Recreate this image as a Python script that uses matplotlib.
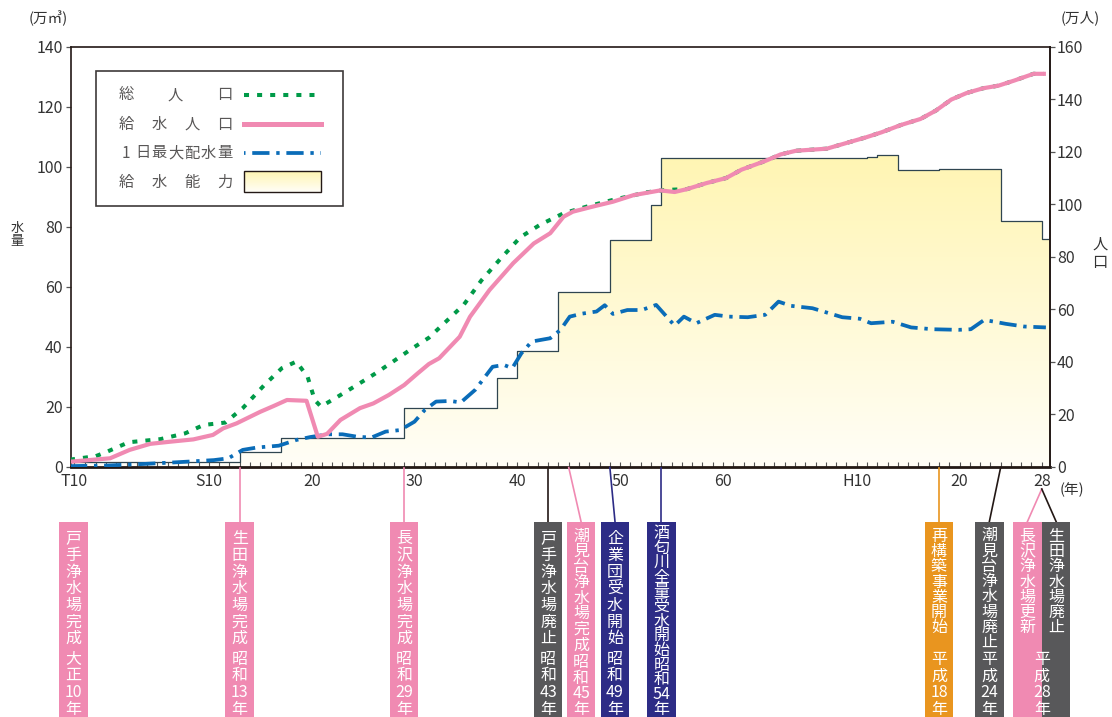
import re
import numpy as np
import matplotlib
matplotlib.use('Agg')
import matplotlib.pyplot as plt
from matplotlib import transforms
from matplotlib.colors import LinearSegmentedColormap
from matplotlib.patches import Polygon, Rectangle
from matplotlib.lines import Line2D

plt.rcParams['font.family'] = ['Noto Sans CJK JP', 'DejaVu Sans']

# ---- data (years as plotted, population in 万人, water in 万m3) ----
total_years = [1921.5, 1924.0, 1925.1, 1927.2, 1930.3, 1932.7, 1934.5, 1936.6, 1938.3, 1940.4,
               1942.1, 1943.5, 1944.6, 1945.3, 1945.9, 1947.3, 1949.4, 1951.2, 1952.9, 1954.8,
               1956.4, 1958.1, 1959.8, 1961.5, 1963.3, 1965.3, 1967.2, 1969.5, 1971.8, 1974.3,
               1977.6, 1979.5, 1981.5, 1983.4, 1985.3, 1986.8, 1989.1, 1990.6, 1992.1, 1995.1,
               1996.6, 1998.9, 2000.4, 2002.3, 2004.2, 2005.7, 2007.2, 2008.7, 2010.3, 2011.8,
               2013.3, 2015.2, 2016.2]
total_pop = [2.7, 4.0, 5.7, 9.3, 10.5, 12.7, 15.9, 16.8, 22.3, 31.1,
             37.5, 40.0, 34.3, 25.4, 22.9, 26.1, 31.1, 35.5, 40.0, 45.1,
             49.1, 55.4, 61.7, 70.9, 78.9, 87.4, 92.1, 96.5, 99.1, 101.6,
             104.5, 105.4, 105.7, 108.0, 109.9, 113.1, 116.4, 118.9, 120.3, 121.1,
             122.8, 125.4, 127.3, 130.1, 132.4, 135.6, 139.8, 142.3, 144.1, 145.1,
             147.0, 149.6, 149.6]

supply_years = [1921.5, 1925.4, 1927.3, 1929.3, 1931.2, 1933.5, 1935.4, 1936.4, 1937.7, 1940.0,
                1941.3, 1942.6, 1944.5, 1945.6, 1946.5, 1947.8, 1949.7, 1951.0, 1952.5, 1954.0,
                1955.3, 1956.4, 1957.4, 1959.4, 1960.4, 1962.3, 1964.6, 1966.6, 1968.2, 1969.5,
                1970.4, 1972.4, 1974.3, 1976.3, 1978.9, 1980.3, 1981.5, 1983.4, 1985.3, 1986.8,
                1989.1, 1990.6, 1992.1, 1995.1, 1996.6, 1998.9, 2000.4, 2002.3, 2004.2, 2005.7,
                2007.2, 2008.7, 2010.3, 2011.8, 2013.3, 2015.2, 2016.2]
supply_pop = [1.9, 3.2, 6.4, 8.7, 9.5, 10.4, 12.1, 14.6, 16.5, 20.9,
              23.1, 25.4, 25.1, 11.4, 12.5, 17.8, 22.3, 24.1, 27.3, 31.1,
              35.5, 39.1, 41.3, 49.5, 57.1, 67.3, 77.5, 85.0, 88.9, 95.2,
              97.1, 99.1, 100.9, 103.4, 105.2, 104.6, 105.7, 108.0, 109.9, 113.1,
              116.4, 118.9, 120.3, 121.1, 122.8, 125.4, 127.3, 130.1, 132.4, 135.6,
              139.8, 142.3, 144.1, 145.1, 147.0, 149.6, 149.6]

flow_years = [1921.5, 1925.1, 1928.6, 1932.0, 1935.5, 1936.9, 1938.3, 1939.7, 1941.8, 1943.5,
              1944.9, 1946.6, 1948.0, 1949.4, 1950.8, 1952.2, 1953.6, 1955.0, 1956.0, 1957.1,
              1958.5, 1959.5, 1960.9, 1962.6, 1963.7, 1964.5, 1965.4, 1966.4, 1968.2, 1969.2,
              1970.1, 1971.3, 1972.7, 1973.5, 1974.3, 1975.7, 1977.1, 1978.5, 1980.3, 1981.2,
              1982.4, 1984.2, 1985.6, 1987.4, 1989.1, 1990.4, 1991.6, 1993.7, 1996.6, 1998.3,
              1999.4, 2001.5, 2003.3, 2005.4, 2007.9, 2009.1, 2010.4, 2011.4, 2012.5, 2014.3,
              2016.4]
max_flow = [0.2, 0.4, 0.9, 1.5, 2.2, 2.8, 5.6, 6.4, 7.0, 8.9,
            9.9, 10.8, 10.8, 10.0, 9.7, 11.7, 12.2, 15.0, 18.9, 21.7,
            21.9, 21.4, 25.6, 33.3, 33.9, 32.8, 37.8, 41.7, 42.8, 45.6,
            50.0, 51.0, 51.7, 53.8, 50.9, 52.2, 52.2, 53.9, 47.0, 50.0,
            47.8, 50.6, 50.0, 49.8, 50.6, 55.0, 53.6, 52.8, 49.8, 49.3,
            47.8, 48.3, 46.4, 45.8, 45.6, 45.8, 48.9, 48.3, 47.6, 46.7,
            46.4]

cap_years = [1921.5, 1938, 1942, 1954, 1963, 1965, 1969, 1974, 1978, 1979,
             1999, 2000, 2002, 2006, 2012, 2016]
cap_values = [1.5, 4.8, 9.5, 19.5, 29.5, 38.6, 58.3, 75.6, 87.2, 102.8,
              103.3, 103.8, 98.9, 99.1, 81.9, 75.8]

xtick_years = [1921.9, 1935, 1945, 1955, 1965, 1975, 1985, 1998, 2008, 2016]
xtick_labels = ['T10', 'S10', '20', '30', '40', '50', '60', 'H10', '20', '28']

event_years = [1921, 1938, 1954, 1968, 1970, 1974, 1979, 2006, 2012, 2016, 2016]
event_names = ['戸手浄水場完成', '生田浄水場完成', '長沢浄水場完成', '戸手浄水場廃止',
               '潮見台浄水場完成', '企業団受水開始', '酒匂川全量受水開始', '再構築事業開始',
               '潮見台浄水場廃止', '長沢浄水場更新', '生田浄水場廃止']
event_eras = ['大正10年', '昭和13年', '昭和29年', '昭和43年', '昭和45年', '昭和49年',
              '昭和54年', '平成18年', '平成24年', '平成28年', '']

# ---- style ----
PINK = '#f08ab2'
GREEN = '#009a48'
BLUE = '#0a6cb8'
NAVY = '#2d2c86'
GRAY = '#58585a'
ORANGE = '#e9951f'
DARK = '#231815'
event_colors = [PINK, PINK, PINK, GRAY, PINK, NAVY, NAVY, ORANGE, GRAY, PINK, GRAY]
line_colors = [PINK, PINK, PINK, DARK, PINK, NAVY, NAVY, ORANGE, DARK, PINK, DARK]
box_shift = [0.85, 0, 0, 0, 1.2, 0.5, 0, 0, -1.1, -1.4, 1.4]

W, H = 1112, 717
X_RIGHT = 2016.8
BOX_FS = 11.5
cap_cmap = LinearSegmentedColormap.from_list('cap', ['#fffef7', '#fff5b2'])

fig = plt.figure(figsize=(W / 100, H / 100), dpi=100)
ax = fig.add_axes([70.5 / W, 1 - 466.7 / H, (1050 - 70.5) / W, (466.7 - 46.5) / H])
ax2 = ax.twinx()
over = fig.add_axes([0, 0, 1, 1], zorder=10)
over.set_xlim(0, W)
over.set_ylim(H, 0)
over.axis('off')
over.patch.set_alpha(0)

# supply capacity: gradient fill under step outline
cap_x = cap_years + [X_RIGHT]
verts = [(cap_years[0], 0)]
for i, v in enumerate(cap_values):
    verts += [(cap_x[i], v), (cap_x[i + 1], v)]
verts.append((X_RIGHT, 0))
poly = Polygon(verts, closed=True, facecolor='none', edgecolor='none')
ax.add_patch(poly)
grad = np.linspace(0, 1, 256).reshape(-1, 1)
img = ax.imshow(grad, extent=(cap_years[0], X_RIGHT, 0, 105), origin='lower',
                aspect='auto', cmap=cap_cmap, zorder=1)
img.set_clip_path(poly)
ax.plot(cap_x, cap_values + [cap_values[-1]], drawstyle='steps-post',
        color='#2f4550', lw=0.9, zorder=2)

# max daily flow
ax.plot(flow_years, max_flow, color=BLUE, lw=2.7, linestyle=(0, (4.6, 1.8, 0.9, 1.8)),
        dash_capstyle='butt', zorder=3)

# population on right axis
ax2.plot(total_years, total_pop, color=GREEN, lw=2.9, linestyle=(0, (1.25, 2.0)),
         dash_capstyle='butt', zorder=3)
ax2.plot(supply_years, supply_pop, color=PINK, lw=3.0, solid_joinstyle='round', zorder=4)

ax.set_xlim(cap_years[0] + 0.05, X_RIGHT)
ax.set_ylim(0, 140)
ax2.set_ylim(0, 160)
ax.set_yticks(range(0, 141, 20))
ax2.set_yticks(range(0, 161, 20))
ax.set_xticks(xtick_years)
ax.set_xticklabels(xtick_labels)
ax.set_xticks(np.arange(1923, 2017), minor=True)

ax.tick_params(axis='x', which='both', direction='in', length=3.6, width=0.8,
               color='#555555', pad=4.5, labelsize=11.5, labelcolor='#333333')
ax.tick_params(axis='y', direction='out', length=3.6, width=0.9, color='#555555',
               pad=2, labelsize=11.5, labelcolor='#333333')
ax2.tick_params(axis='y', direction='out', length=3.6, width=0.9, color='#555555',
                pad=1.5, labelsize=11.5, labelcolor='#333333')

for s in ['left', 'top']:
    ax.spines[s].set_linewidth(1.2)
    ax.spines[s].set_color(DARK)
ax.spines['bottom'].set_linewidth(2.0)
ax.spines['bottom'].set_color(DARK)
ax.spines['right'].set_visible(False)
for s in ['left', 'top', 'bottom']:
    ax2.spines[s].set_visible(False)
ax2.spines['right'].set_linewidth(1.4)
ax2.spines['right'].set_color(DARK)

# axis captions
over.text(48, 18, '(万㎥)', ha='center', va='center', fontsize=10.5, color='#333333')
over.text(1080, 18, '(万人)', ha='center', va='center', fontsize=10.5, color='#333333')
over.text(1072, 490, '(年)', ha='center', va='center', fontsize=10.5, color='#333333')
over.text(17, 235, '水\n量', ha='center', va='center', fontsize=9.5, color='#333333',
          linespacing=1.05)
over.text(1100, 253, '人\n口', ha='center', va='center', fontsize=11, color='#333333',
          linespacing=1.1)

# legend box
over.add_patch(Rectangle((96, 71), 247, 135, facecolor='white', edgecolor='#3e3a39',
                         lw=1.2, zorder=1))
leg_labels = ['総人口', '給水人口', '1日最大配水量', '給水能力']
leg_y = [95, 124, 153, 182]
for lab, y in zip(leg_labels, leg_y):
    for cx, ch in zip(np.linspace(126, 225, len(lab)), lab):
        over.text(cx, y, ch, ha='center', va='center', fontsize=11, color='#595757', zorder=3)
over.add_line(Line2D([244, 321], [95, 95], color=GREEN, lw=2.9,
                     linestyle=(0, (1.25, 2.0)), dash_capstyle='butt', zorder=3))
over.add_line(Line2D([244, 321], [124, 124], color=PINK, lw=3.6, zorder=3))
over.add_line(Line2D([244, 321], [153, 153], color=BLUE, lw=2.7,
                     linestyle=(0.5, (0.9, 1.8, 4.6, 1.8)), dash_capstyle='butt', zorder=3))
over.imshow(np.linspace(1, 0, 64).reshape(-1, 1), extent=(244, 321, 192, 171),
            origin='upper', aspect='auto', cmap=cap_cmap, zorder=2)
over.add_patch(Rectangle((244, 171), 77, 21, facecolor='none', edgecolor='#231815',
                         lw=1.0, zorder=3))
over.set_xlim(0, W)
over.set_ylim(H, 0)

# event markers below the axis
blend = transforms.blended_transform_factory(ax.transData, over.transData)
BOX_TOP = 521.7
BOX_W = 2.77
AX_Y = 467.5
for i, yr in enumerate(event_years):
    bx = yr + box_shift[i]
    over.add_patch(Rectangle((bx - BOX_W / 2, BOX_TOP), BOX_W, H - BOX_TOP + 2,
                             facecolor=event_colors[i], edgecolor='none',
                             transform=blend, clip_on=False, zorder=2))
    if yr > ax.get_xlim()[0]:
        y0 = 489 if yr >= 2016 else AX_Y
        over.add_line(Line2D([yr, bx], [y0, BOX_TOP], color=line_colors[i], lw=1.2,
                             transform=blend, clip_on=False, zorder=1))

# measure the line step of a multi-line text so columns can be set to a pitch
fig.canvas.draw()
renderer = fig.canvas.get_renderer()
probe1 = over.text(0, 0, '戸', fontsize=BOX_FS, linespacing=1.0)
probe2 = over.text(0, 0, '戸\n戸', fontsize=BOX_FS, linespacing=1.0)
STEP1 = (probe2.get_window_extent(renderer).height
         - probe1.get_window_extent(renderer).height)
probe1.remove()
probe2.remove()
GLYPH_OFF = 0.38 * BOX_FS * 100 / 72


def column(x, first_center, tokens, pitch):
    # va='baseline' anchors the last line of a multi-line text
    last_center = first_center + (len(tokens) - 1) * pitch
    over.text(x, last_center + GLYPH_OFF, '\n'.join(tokens), ha='center', va='baseline',
              multialignment='center', linespacing=pitch / STEP1, fontsize=BOX_FS,
              color='white', transform=blend, clip_on=False, zorder=3)


for i, yr in enumerate(event_years):
    bx = yr + box_shift[i]
    name = list(event_names[i])
    era = re.findall(r'\d+|.', event_eras[i])
    heisei = event_eras[i].startswith('平成') or event_eras[i] == ''
    if heisei:
        p_name, p_era = 14.7, 16.2
    else:
        p_name = 170.0 / (len(name) + len(era) - 0.7)
        p_era = p_name
    column(bx, 538, name, p_name)
    if not era:
        continue
    ex = bx
    if i + 1 < len(event_years) and event_eras[i + 1] == '':
        ex = (bx + event_years[i + 1] + box_shift[i + 1]) / 2
    column(ex, 707.5 - (len(era) - 1) * p_era, era, p_era)

fig.savefig('out.png', dpi=100)
